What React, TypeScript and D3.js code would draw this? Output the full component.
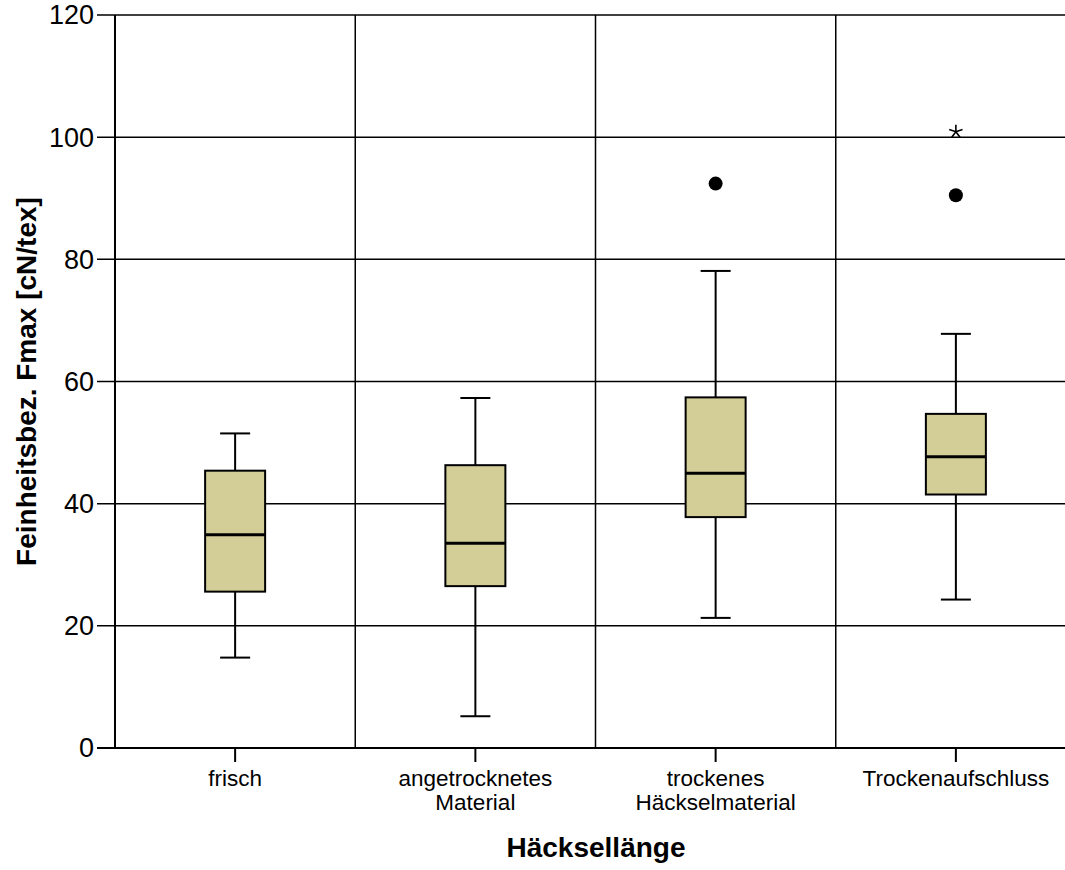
import React from "react";
import * as d3 from "d3";

const categories = ["frisch", "angetrocknetes\nMaterial", "trockenes\nHäckselmaterial", "Trockenaufschluss"];
const whiskerLow = [14.8, 5.2, 21.3, 24.3];
const q1 = [25.6, 26.5, 37.8, 41.5];
const median = [34.9, 33.5, 45.0, 47.7];
const q3 = [45.4, 46.3, 57.4, 54.7];
const whiskerHigh = [51.5, 57.3, 78.1, 67.8];
const outlierCircles = [
  { cat: 2, value: 92.4 },
  { cat: 3, value: 90.5 },
];
const outlierStars = [{ cat: 3, value: 100.9 }];
const yTicks = [0, 20, 40, 60, 80, 100, 120];

const W = 1065;
const H = 870;
const left = 115;
const right = 1076;
const top = 15;
const bottom = 748;

export default function App() {
  const x = d3.scaleBand<string>().domain(categories).range([left, right]).padding(0);
  const y = d3.scaleLinear().domain([0, 120]).range([bottom, top]);
  const bw = x.bandwidth();
  const boxW = 60;
  const capW = 30;
  const font = "Arial, 'Liberation Sans', Helvetica, sans-serif";

  const starPath = (cx: number, cy: number, r: number) => {
    const parts: string[] = [];
    for (let i = 0; i < 5; i++) {
      const a = -Math.PI / 2 + (i * 2 * Math.PI) / 5;
      parts.push(`M${cx},${cy}L${cx + r * Math.cos(a)},${cy + r * Math.sin(a)}`);
    }
    return parts.join("");
  };

  return (
    <svg width={W} height={H} style={{ position: "absolute", left: 0, top: 0, background: "#fff" }} fontFamily={font}>
      <rect x={0} y={0} width={W} height={H} fill="#fff" />
      {/* horizontal grid + y ticks */}
      {yTicks.map((t) => (
        <g key={t}>
          <line x1={97} x2={right} y1={y(t)} y2={y(t)} stroke="#000" strokeWidth={t === 0 ? 2 : 1.5} />
          <text x={94} y={y(t)} dy="0.35em" textAnchor="end" fontSize={27} fill="#000">
            {t}
          </text>
        </g>
      ))}
      {/* vertical category separators */}
      {categories.map((c) => (
        <line key={c} x1={x(c)!} x2={x(c)!} y1={top} y2={bottom} stroke="#000" strokeWidth={x(c) === left ? 2 : 1.5} />
      ))}
      {/* x ticks and labels */}
      {categories.map((c) => {
        const cx = x(c)! + bw / 2;
        const lines = c.split("\n");
        return (
          <g key={"xt" + c}>
            <line x1={cx} x2={cx} y1={bottom} y2={bottom + 14} stroke="#000" strokeWidth={2} />
            <text x={cx} y={786} textAnchor="middle" fontSize={22.5} fill="#000">
              {lines.map((l, i) => (
                <tspan key={i} x={cx} dy={i === 0 ? 0 : 23.5}>
                  {l}
                </tspan>
              ))}
            </text>
          </g>
        );
      })}
      {/* boxes */}
      {categories.map((c, i) => {
        const cx = x(c)! + bw / 2;
        return (
          <g key={"b" + c}>
            <line x1={cx} x2={cx} y1={y(whiskerHigh[i])} y2={y(q3[i])} stroke="#000" strokeWidth={2} />
            <line x1={cx} x2={cx} y1={y(q1[i])} y2={y(whiskerLow[i])} stroke="#000" strokeWidth={2} />
            <line x1={cx - capW / 2} x2={cx + capW / 2} y1={y(whiskerHigh[i])} y2={y(whiskerHigh[i])} stroke="#000" strokeWidth={2} />
            <line x1={cx - capW / 2} x2={cx + capW / 2} y1={y(whiskerLow[i])} y2={y(whiskerLow[i])} stroke="#000" strokeWidth={2} />
            <rect
              x={cx - boxW / 2}
              y={y(q3[i])}
              width={boxW}
              height={y(q1[i]) - y(q3[i])}
              fill="#d3ce97"
              stroke="#000"
              strokeWidth={2}
            />
            <line x1={cx - boxW / 2} x2={cx + boxW / 2} y1={y(median[i])} y2={y(median[i])} stroke="#000" strokeWidth={3} />
          </g>
        );
      })}
      {/* outliers */}
      {outlierCircles.map((o, i) => (
        <circle key={"o" + i} cx={x(categories[o.cat])! + bw / 2} cy={y(o.value)} r={7} fill="#000" />
      ))}
      {outlierStars.map((o, i) => (
        <path
          key={"s" + i}
          d={starPath(x(categories[o.cat])! + bw / 2, y(o.value), 7)}
          stroke="#000"
          strokeWidth={1.6}
          fill="none"
        />
      ))}
      {/* axis titles */}
      <text x={596} y={857} textAnchor="middle" fontSize={28} fontWeight="bold" fill="#000">
        Häcksellänge
      </text>
      <text
        transform={`translate(36,${(top + bottom) / 2}) rotate(-90)`}
        textAnchor="middle"
        fontSize={28}
        fontWeight="bold"
        fill="#000"
      >
        Feinheitsbez. Fmax [cN/tex]
      </text>
    </svg>
  );
}
